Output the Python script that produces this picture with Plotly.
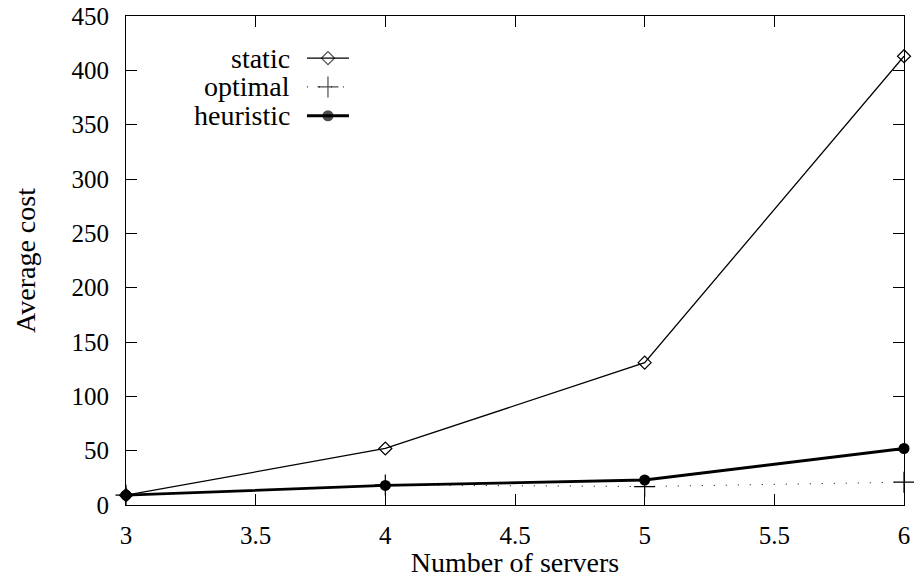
import plotly.graph_objects as go

servers = [3, 4, 5, 6]
static_cost = [9, 52, 131, 413]
optimal_cost = [9, 18.5, 17, 21]
heuristic_cost = [9, 18, 23, 52]

x_ticks = [3, 3.5, 4, 4.5, 5, 5.5, 6]
x_tick_labels = ["3", "3.5", "4", "4.5", "5", "5.5", "6"]
y_ticks = [0, 50, 100, 150, 200, 250, 300, 350, 400, 450]

series_names = ["static", "optimal", "heuristic"]

FONT = "Liberation Serif"
FS_TICK = 25
FS_TEXT = 28

fig = go.Figure()

fig.add_trace(go.Scatter(
    x=servers, y=static_cost, mode="lines+markers", name="static",
    line=dict(color="black", width=1.3),
    marker=dict(symbol="diamond-open", size=10, color="black", line=dict(width=1.2)),
    cliponaxis=False, showlegend=False))
fig.add_trace(go.Scatter(
    x=servers, y=optimal_cost, mode="lines+markers", name="optimal",
    line=dict(color="black", width=1, dash="1px,11px"),
    marker=dict(symbol="cross-thin", size=15, color="black", line=dict(width=1.2, color="black")),
    cliponaxis=False, showlegend=False))
fig.add_trace(go.Scatter(
    x=servers, y=heuristic_cost, mode="lines+markers", name="heuristic",
    line=dict(color="black", width=2.8),
    marker=dict(symbol="circle", size=11, color="black", line=dict(width=0)),
    cliponaxis=False, showlegend=False))

# manual gnuplot-style key (text left, sample right)
key_y = [0.914, 0.855, 0.796]
x0, xc, x1 = 0.2326, 0.2596, 0.2866
fig.add_trace(go.Scatter(
    x=[x0, xc, x1], y=[key_y[0]] * 3, xaxis="x2", yaxis="y2", mode="lines+markers",
    line=dict(color="black", width=1.3),
    marker=dict(symbol="diamond-open", size=[0, 10, 0], color="black", line=dict(width=1.2)),
    showlegend=False, hoverinfo="skip"))
fig.add_trace(go.Scatter(
    x=[x0, xc, x1], y=[key_y[1]] * 3, xaxis="x2", yaxis="y2", mode="lines+markers",
    line=dict(color="black", width=1, dash="1px,11px"),
    marker=dict(symbol="cross-thin", size=[0, 15, 0], color="black", line=dict(width=1.2, color="black")),
    showlegend=False, hoverinfo="skip"))
fig.add_trace(go.Scatter(
    x=[x0, xc, x1], y=[key_y[2]] * 3, xaxis="x2", yaxis="y2", mode="lines+markers",
    line=dict(color="black", width=2.8),
    marker=dict(symbol="circle", size=[0, 11, 0], color="black", line=dict(width=0)),
    showlegend=False, hoverinfo="skip"))

for name, yy in zip(series_names, key_y):
    fig.add_annotation(x=0.213, y=yy, xref="paper", yref="paper", text=name,
                       showarrow=False, xanchor="right", yanchor="middle",
                       font=dict(family=FONT, size=FS_TEXT, color="black"))

axis_common = dict(
    showline=True, linecolor="black", linewidth=1, mirror="ticks",
    ticks="inside", ticklen=11, tickcolor="black", tickwidth=1,
    showgrid=False, zeroline=False, automargin=False,
    tickfont=dict(family=FONT, size=FS_TICK, color="black"),
)

fig.update_layout(
    width=914, height=578,
    margin=dict(l=126, r=10, t=16, b=73),
    paper_bgcolor="white", plot_bgcolor="white",
    xaxis=dict(range=[3, 6], tickvals=x_ticks, ticktext=x_tick_labels,
               ticklabelstandoff=8,
               title=dict(text="Number of servers", standoff=3,
                          font=dict(family=FONT, size=FS_TEXT, color="black")),
               **axis_common),
    yaxis=dict(range=[0, 450], tickvals=y_ticks, ticklabelstandoff=11,
               title=dict(text="Average cost", standoff=27,
                          font=dict(family=FONT, size=FS_TEXT, color="black")),
               **axis_common),
    xaxis2=dict(overlaying="x", range=[0, 1], visible=False, fixedrange=True),
    yaxis2=dict(overlaying="y", range=[0, 1], visible=False, fixedrange=True),
    showlegend=False,
)

fig.write_html("out.html",
               config={"displayModeBar": False},
               post_script="document.body.style.margin='0';document.body.style.overflow='hidden';")
